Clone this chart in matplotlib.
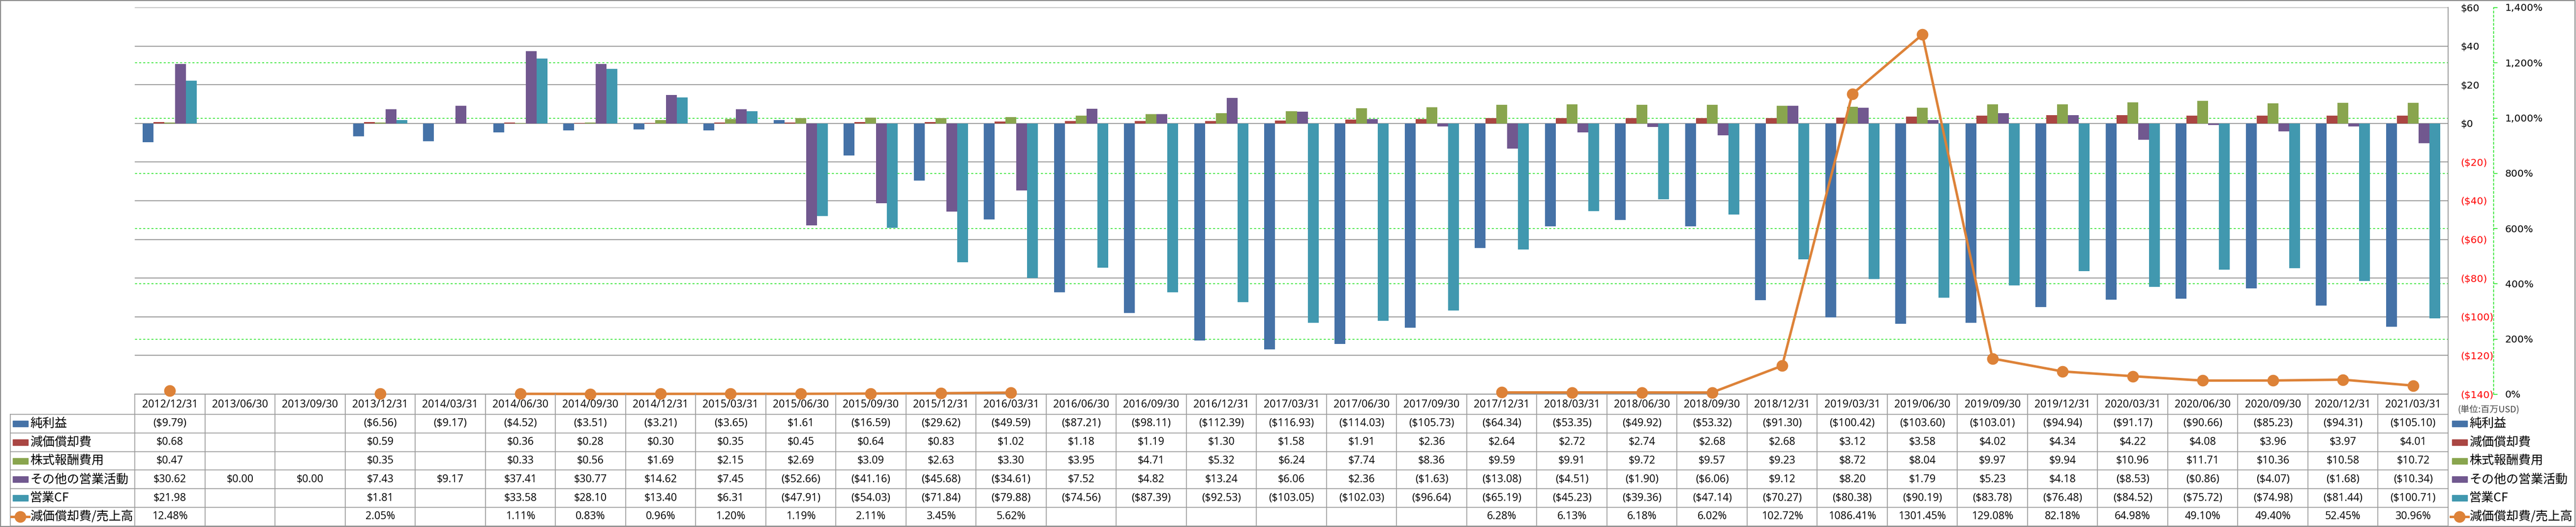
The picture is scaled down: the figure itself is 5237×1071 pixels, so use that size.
import numpy as np
import matplotlib
matplotlib.use('Agg')
import matplotlib.pyplot as plt
from matplotlib import transforms
from matplotlib.lines import Line2D
from matplotlib.patches import Rectangle

plt.rcParams['text.parse_math'] = False

dates = ['2012/12/31', '2013/06/30', '2013/09/30', '2013/12/31', '2014/03/31', '2014/06/30',
         '2014/09/30', '2014/12/31', '2015/03/31', '2015/06/30', '2015/09/30', '2015/12/31',
         '2016/03/31', '2016/06/30', '2016/09/30', '2016/12/31', '2017/03/31', '2017/06/30',
         '2017/09/30', '2017/12/31', '2018/03/31', '2018/06/30', '2018/09/30', '2018/12/31',
         '2019/03/31', '2019/06/30', '2019/09/30', '2019/12/31', '2020/03/31', '2020/06/30',
         '2020/09/30', '2020/12/31', '2021/03/31']

net_income = [-9.79, None, None, -6.56, -9.17, -4.52, -3.51, -3.21, -3.65, 1.61, -16.59, -29.62,
              -49.59, -87.21, -98.11, -112.39, -116.93, -114.03, -105.73, -64.34, -53.35, -49.92,
              -53.32, -91.30, -100.42, -103.60, -103.01, -94.94, -91.17, -90.66, -85.23, -94.31,
              -105.10]
depreciation = [0.68, None, None, 0.59, None, 0.36, 0.28, 0.30, 0.35, 0.45, 0.64, 0.83, 1.02,
                1.18, 1.19, 1.30, 1.58, 1.91, 2.36, 2.64, 2.72, 2.74, 2.68, 2.68, 3.12, 3.58,
                4.02, 4.34, 4.22, 4.08, 3.96, 3.97, 4.01]
stock_comp = [0.47, None, None, 0.35, None, 0.33, 0.56, 1.69, 2.15, 2.69, 3.09, 2.63, 3.30,
              3.95, 4.71, 5.32, 6.24, 7.74, 8.36, 9.59, 9.91, 9.72, 9.57, 9.23, 8.72, 8.04,
              9.97, 9.94, 10.96, 11.71, 10.36, 10.58, 10.72]
other_ops = [30.62, 0.00, 0.00, 7.43, 9.17, 37.41, 30.77, 14.62, 7.45, -52.66, -41.16, -45.68,
             -34.61, 7.52, 4.82, 13.24, 6.06, 2.36, -1.63, -13.08, -4.51, -1.90, -6.06, 9.12,
             8.20, 1.79, 5.23, 4.18, -8.53, -0.86, -4.07, -1.68, -10.34]
operating_cf = [21.98, None, None, 1.81, None, 33.58, 28.10, 13.40, 6.31, -47.91, -54.03, -71.84,
                -79.88, -74.56, -87.39, -92.53, -103.05, -102.03, -96.64, -65.19, -45.23, -39.36,
                -47.14, -70.27, -80.38, -90.19, -83.78, -76.48, -84.52, -75.72, -74.98, -81.44,
                -100.71]
dep_ratio = [12.48, None, None, 2.05, None, 1.11, 0.83, 0.96, 1.20, 1.19, 2.11, 3.45, 5.62,
             None, None, None, None, None, None, 6.28, 6.13, 6.18, 6.02, 102.72, 1086.41,
             1301.45, 129.08, 82.18, 64.98, 49.10, 49.40, 52.45, 30.96]

series_names = ['純利益', '減価償却費', '株式報酬費用', 'その他の営業活動', '営業CF']
ratio_name = '減価償却費/売上高'
unit_note = '(単位:百万USD)'

colors = ['#4572A7', '#AA4643', '#89A54E', '#71588F', '#4198AF']
line_color = '#DD8238'
grid_gray = '#8c8c8c'
green = '#00e000'
jp_font = ['Noto Sans CJK JP', 'DejaVu Sans']
num_font = ['Open Sans', 'Noto Sans CJK JP', 'DejaVu Sans']

W, H = 5237, 1071
fig = plt.figure(figsize=(W / 100, H / 100), dpi=100)


def fx(px):
    return px / W


def fy(px):
    return 1 - px / H


plot_l, plot_r, plot_t, plot_b = 274, 4977, 15, 801
ax = fig.add_axes([fx(plot_l), fy(plot_b), fx(plot_r - plot_l), (plot_b - plot_t) / H])
ax2 = ax.twinx()

n = len(dates)
x = np.arange(n)
bw = 22 / 142.5
series = [net_income, depreciation, stock_comp, other_ops, operating_cf]
for k, (vals, c) in enumerate(zip(series, colors)):
    ax.bar(x + (k - 2) * bw, np.array(vals, dtype=float), width=bw, color=c, zorder=2)

# primary axis ($)
ax.set_xlim(-0.5, n - 0.5)
ax.set_ylim(-140, 60)
ax.set_xticks([])
ax.yaxis.tick_right()
yt = np.arange(-140, 61, 20)


def money_tick(v):
    return f'(${abs(v)})' if v < 0 else f'${v}'


ax.set_yticks(yt)
ax.set_yticklabels([money_tick(v) for v in yt])
for lab, v in zip(ax.get_yticklabels(), yt):
    lab.set_color('#ff0000' if v < 0 else 'black')
ax.tick_params(axis='y', length=0, pad=18, labelsize=14.5)
ax.grid(axis='y', color=grid_gray, lw=1.2)
ax.set_axisbelow(True)
for s in ['left', 'top']:
    ax.spines[s].set_visible(False)
for s in ['right', 'bottom']:
    ax.spines[s].set_color(grid_gray)
    ax.spines[s].set_linewidth(1.2)

# secondary axis (%)
ax2.set_ylim(0, 1400)
pt = np.arange(0, 1401, 200)
ax2.set_yticks(pt)
ax2.set_yticklabels([f'{v:,}%' for v in pt])
for s in ['left', 'top', 'bottom']:
    ax2.spines[s].set_visible(False)
ax2.spines['right'].set_position(('outward', 92 * 0.72))
ax2.spines['right'].set_color(green)
ax2.spines['right'].set_linestyle((0, (3, 3)))
ax2.spines['right'].set_linewidth(1)
ax2.tick_params(axis='y', direction='out', length=5.5, width=1, color=green, pad=11.5,
                labelsize=14.5)

blend = transforms.blended_transform_factory(ax.transAxes, ax2.transData)
for v in pt[1:-1]:
    ax.add_line(Line2D([0, 1], [v, v], transform=blend, color=green, lw=1,
                       ls=(0, (3, 3)), zorder=0.6))

ax2.plot(x, np.array(dep_ratio, dtype=float), color=line_color, marker='o', ms=16, lw=3.6,
         zorder=3, clip_on=False)

# data table
tb = transforms.blended_transform_factory(ax.transData, fig.transFigure)
tcol = '#9a9a9a'
row_lines = [842 + 37.8 * k for k in range(7)]
for i in range(n + 1):
    fig.add_artist(Line2D([i - 0.5, i - 0.5], [fy(plot_b), fy(row_lines[-1])], transform=tb,
                          color=tcol, lw=1.2))
for yl in row_lines:
    fig.add_artist(Line2D([fx(21), fx(plot_r)], [fy(yl), fy(yl)], color=tcol, lw=1.2))
fig.add_artist(Line2D([fx(21), fx(21)], [fy(row_lines[0]), fy(row_lines[-1])], color=tcol,
                      lw=1.2))

for i, d in enumerate(dates):
    fig.text(i, fy(822), d, transform=tb, ha='center', va='center', fontsize=15.5,
             family=num_font)


def money(v):
    return f'(${abs(v):.2f})' if v < 0 else f'${v:.2f}'


row_centers = [(row_lines[k] + row_lines[k + 1]) / 2 for k in range(6)]
for r, vals in enumerate(series):
    for i, v in enumerate(vals):
        if v is not None:
            fig.text(i, fy(row_centers[r]), money(v), transform=tb, ha='center', va='center',
                     fontsize=15.5, family=num_font)
for i, v in enumerate(dep_ratio):
    if v is not None:
        fig.text(i, fy(row_centers[5]), f'{v:.2f}%', transform=tb, ha='center', va='center',
                 fontsize=15.5, family=num_font)


# row headers (left) and legend (right)
def legend_entry(x0, name, yc, color=None, is_line=False):
    if is_line:
        fig.add_artist(Line2D([fx(x0 - 3), fx(x0 + 33)], [fy(yc), fy(yc)], color=line_color,
                              lw=3.6))
        fig.add_artist(Line2D([fx(x0 + 15)], [fy(yc)], color=line_color, marker='o', ms=16))
    else:
        fig.add_artist(Rectangle((fx(x0), fy(yc + 6)), fx(31), 12 / H, color=color))
    fig.text(fx(x0 + 35), fy(yc), name, ha='left', va='center', fontsize=18, family=jp_font)


for r, name in enumerate(series_names):
    legend_entry(26, name, row_centers[r], colors[r])
    legend_entry(4985, name, row_centers[r], colors[r])
legend_entry(26, ratio_name, row_centers[5], is_line=True)
legend_entry(4985, ratio_name, row_centers[5], is_line=True)
fig.text(fx(4996), fy(832), unit_note, ha='left', va='center', fontsize=13, color='#404040',
         family=jp_font)

fig.add_artist(Rectangle((0.0002, 0.001), 0.9995, 0.998, transform=fig.transFigure,
                         fill=False, edgecolor=grid_gray, lw=1.5))

fig.savefig('out.png', dpi=100)
